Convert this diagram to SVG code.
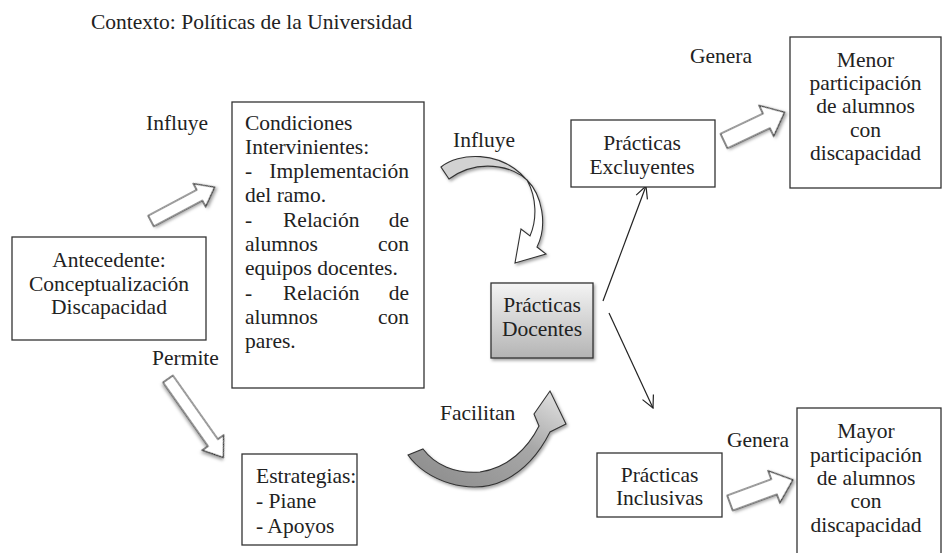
<svg xmlns="http://www.w3.org/2000/svg" width="943" height="553" viewBox="0 0 943 553" font-family="'Liberation Serif', 'Times New Roman', serif">
<style>
text{font-family:'Liberation Serif','Times New Roman',serif;font-size:21.5px;fill:#222}
.c{text-anchor:middle}
.e{text-anchor:end}
.box{fill:#fff;stroke:#333;stroke-width:1.3}
.blk{fill:#fff;stroke:#333;stroke-width:1.2;filter:url(#sh)}
.ln{stroke:#222;stroke-width:1.2;fill:none;marker-end:url(#v)}
</style>
<defs>
<filter id="sh" x="-30%" y="-30%" width="160%" height="160%">
<feDropShadow dx="1.5" dy="2" stdDeviation="1.5" flood-color="#000" flood-opacity="0.35"/>
</filter>
<linearGradient id="gDoc" x1="0" y1="0" x2="0" y2="1">
<stop offset="0" stop-color="#f4f4f4"/>
<stop offset="1" stop-color="#b4b4b4"/>
</linearGradient>
<linearGradient id="gFac" x1="0" y1="1" x2="1" y2="0">
<stop offset="0" stop-color="#8a8a8a"/>
<stop offset="0.6" stop-color="#a8a8a8"/>
<stop offset="1" stop-color="#e6e6e6"/>
</linearGradient>
<marker id="v" markerUnits="userSpaceOnUse" markerWidth="14" markerHeight="14" viewBox="0 0 14 14" refX="13" refY="7" orient="auto">
<path d="M1,1 L13,7 L1,13" fill="none" stroke="#222" stroke-width="1.2"/>
</marker>
</defs>

<text x="91" y="28.5">Contexto: Políticas de la Universidad</text>

<g id="connectors">
<g id="arrow-influye-left">
<polygon class="blk" points="0,-6 55,-6 55,-13 72,0 55,13 55,6 0,6" transform="translate(151,221) rotate(-28)"/>
<text x="146" y="129.5">Influye</text>
</g>
<g id="arrow-permite">
<polygon class="blk" points="0,-6 78,-6 78,-13 96,0 78,13 78,6 0,6" transform="translate(168,379) rotate(54.8)"/>
<text x="152" y="365">Permite</text>
</g>
<g id="arrow-influye-curved" filter="url(#sh)">
<path d="M441,167 C458,153 500,149 527,180 C512,166 478,158 449,179 Z" fill="#d2d2d2" stroke="#333" stroke-width="1.1"/>
<path d="M527,180 C542,195 548,225 537,247 L546,254 L515,263 L521,229 L530,236 C537,220 537,198 527,180 Z" fill="#fff" stroke="#333" stroke-width="1.1"/>
</g>
<text x="453" y="147">Influye</text>
<g id="arrow-facilitan">
<path d="M408,455 C425,480 470,497 505,480 C525,470 540,452 550,432 L566,424 L550,391 L534,414 L539,426 C528,448 508,468 480,472 C455,474 435,465 423,449 Z" fill="url(#gFac)" stroke="#333" stroke-width="1.1" filter="url(#sh)"/>
<text x="440" y="420">Facilitan</text>
</g>
<line class="ln" x1="603" y1="301" x2="646" y2="186"/>
<line class="ln" x1="609" y1="313" x2="653" y2="408"/>
<g id="arrow-genera-top">
<polygon class="blk" points="0,-8 47,-8 47,-17 67,0 47,17 47,8 0,8" transform="translate(724,141) rotate(-25.4)"/>
<text x="690" y="62.5">Genera</text>
</g>
<g id="arrow-genera-bottom">
<polygon class="blk" points="0,-8 47,-8 47,-17 67,0 47,17 47,8 0,8" transform="translate(730,503) rotate(-20.2)"/>
<text x="727" y="446.5">Genera</text>
</g>
</g>

<g id="antecedente">
<rect class="box" x="12" y="237" width="194" height="103"/>
<text class="c" x="109" y="267">Antecedente:</text>
<text class="c" x="109" y="290.5">Conceptualización</text>
<text class="c" x="109" y="314">Discapacidad</text>
</g>

<g id="condiciones">
<rect class="box" x="232" y="102" width="192" height="286"/>
<text x="245" y="129.5">Condiciones</text>
<text x="245" y="153.8">Intervinientes:</text>
<text x="245" y="178.1">-</text><text class="e" x="409" y="178.1">Implementación</text>
<text x="245" y="202.4">del ramo.</text>
<text x="245" y="226.7">-</text><text x="283" y="226.7">Relación</text><text class="e" x="409" y="226.7">de</text>
<text x="245" y="251">alumnos</text><text class="e" x="409" y="251">con</text>
<text x="245" y="275.3">equipos docentes.</text>
<text x="245" y="299.6">-</text><text x="283" y="299.6">Relación</text><text class="e" x="409" y="299.6">de</text>
<text x="245" y="323.9">alumnos</text><text class="e" x="409" y="323.9">con</text>
<text x="245" y="348">pares.</text>
</g>

<g id="estrategias">
<rect class="box" x="242" y="454" width="115" height="91"/>
<text x="256" y="483.3">Estrategias:</text>
<text x="256" y="508.3">- Piane</text>
<text x="256" y="533.3">- Apoyos</text>
</g>

<g id="practicas-docentes">
<rect x="491" y="283" width="102" height="75" fill="url(#gDoc)" stroke="#333" stroke-width="1.3" filter="url(#sh)"/>
<text class="c" x="542" y="312">Prácticas</text>
<text class="c" x="542" y="336">Docentes</text>
</g>

<g id="practicas-excluyentes">
<rect class="box" x="571" y="120" width="144" height="67"/>
<text class="c" x="642" y="150">Prácticas</text>
<text class="c" x="642" y="173.5">Excluyentes</text>
</g>

<g id="menor">
<rect class="box" x="790" y="37" width="151" height="151"/>
<text class="c" x="865.5" y="66.7">Menor</text>
<text class="c" x="865.5" y="90">participación</text>
<text class="c" x="865.5" y="113.4">de alumnos</text>
<text class="c" x="865.5" y="136.8">con</text>
<text class="c" x="865.5" y="160.2">discapacidad</text>
</g>

<g id="practicas-inclusivas">
<rect class="box" x="597" y="453" width="125" height="64"/>
<text class="c" x="659.5" y="481.7">Prácticas</text>
<text class="c" x="659.5" y="505">Inclusivas</text>
</g>

<g id="mayor">
<rect class="box" x="797" y="408" width="144" height="160"/>
<text class="c" x="866" y="438.3">Mayor</text>
<text class="c" x="866" y="461.7">participación</text>
<text class="c" x="866" y="485">de alumnos</text>
<text class="c" x="866" y="508.3">con</text>
<text class="c" x="866" y="532">discapacidad</text>
</g>
</svg>
